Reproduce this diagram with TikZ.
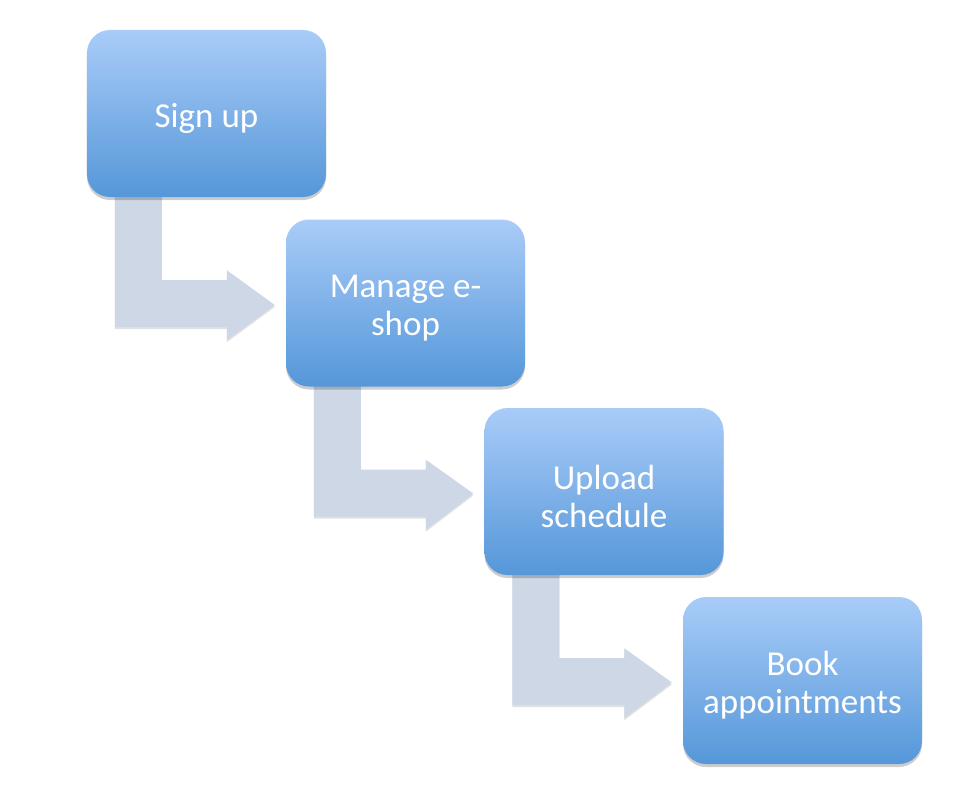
\documentclass[tikz,border=0pt]{standalone}
\usepackage{fontspec}
\setmainfont{Carlito}
\usetikzlibrary{calc,shadows,backgrounds}
\definecolor{boxtop}{HTML}{A9CCF8}
\definecolor{boxbot}{HTML}{5597D9}
\definecolor{arrowc}{HTML}{CDD7E5}
\begin{document}
\begin{tikzpicture}[x=1bp,y=-1bp,
  box/.style={rounded corners=23bp, minimum width=239bp, minimum height=167bp,
    top color=boxtop, bottom color=boxbot, draw=none,
    drop shadow={shadow xshift=0bp, shadow yshift=-3bp, opacity=0.2, fill=black}},
  lbl/.style={text=white, font=\fontsize{35bp}{38bp}\selectfont, align=center},
  flow/.style={fill=arrowc,
    drop shadow={shadow xshift=0bp, shadow yshift=-2bp, opacity=0.12, fill=black}}]
\useasboundingbox (0,0) rectangle (966,810);
\node[box] (a) at (206.5,113.5) {};
\node[box] (b) at (405.5,303) {};
\node[box] (c) at (604,491.5) {};
\node[box] (d) at (802.5,680.5) {};
\node[lbl] (at) at ($(a.center)+(0,5)$) {Sign up};
\node[lbl] (bt) at ($(b.center)+(0,5)$) {Manage e-\\shop};
\node[lbl] (ct) at ($(c.center)+(0,5)$) {Upload\\schedule};
\node[lbl] (dt) at ($(d.center)+(0,5)$) {Book\\appointments};
\begin{scope}[on background layer]
\foreach \s/\t in {a/b,b/c,c/d}{
  \fill[flow] ($(\s.south west)+(28,-5)$) -- ++(47,0) -- ++(0,88) -- ++(65,0)
    -- ++(0,-10) -- ($(\t.west)+(-11,2)$) -- ($(\s.south west)+(140,143)$)
    -- ++(0,-13) -- ($(\s.south west)+(28,130)$) -- cycle;
}
\end{scope}
\end{tikzpicture}
\end{document}
